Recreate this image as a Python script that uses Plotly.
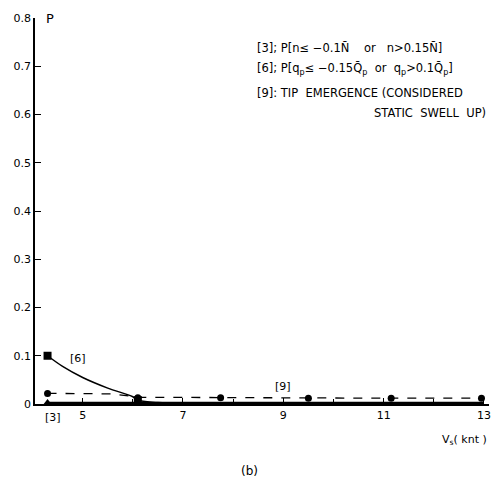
import plotly.graph_objects as go

# Data
v_marks = [4.3, 6.1, 7.75, 9.5, 11.15, 12.95]
p9_marks = [0.022, 0.013, 0.013, 0.012, 0.012, 0.012]
v9_line = [4.3, 5.6, 6.1, 7.75, 9.5, 11.15, 12.95]
p9_line = [0.022, 0.021, 0.014, 0.013, 0.012, 0.012, 0.012]

v6 = [4.3, 4.6, 5.0, 5.5, 6.0, 6.1, 6.5, 7.0]
p6 = [0.100, 0.078, 0.055, 0.033, 0.015, 0.008, 0.003, 0.0]
v6_marks = [4.3, 6.1]
p6_marks = [0.100, 0.008]

v3 = [4.3, 6.1, 13.0]
p3 = [0.002, 0.002, 0.002]

x_ticks = [5, 7, 9, 11, 13]
y_ticks = [0, 0.1, 0.2, 0.3, 0.4, 0.5, 0.6, 0.7, 0.8]
y_ticktext = ["0", "0.1", "0.2", "0.3", "0.4", "0.5", "0.6", "0.7", "0.8"]

FONT = "DejaVu Sans"
fig = go.Figure()

fig.add_trace(go.Scatter(x=v3, y=p3, mode="lines", line=dict(color="black", width=2.5),
                         showlegend=False, cliponaxis=False))
fig.add_trace(go.Scatter(x=[v3[0]], y=[p3[0]], mode="markers",
                         marker=dict(symbol="triangle-up", size=8, color="black"),
                         showlegend=False, cliponaxis=False))
fig.add_trace(go.Scatter(x=v6, y=p6, mode="lines", line=dict(color="black", width=1.5, shape="spline"),
                         showlegend=False, cliponaxis=False))
fig.add_trace(go.Scatter(x=v6_marks, y=p6_marks, mode="markers",
                         marker=dict(symbol="square", size=8, color="black"),
                         showlegend=False, cliponaxis=False))
fig.add_trace(go.Scatter(x=v9_line, y=p9_line, mode="lines",
                         line=dict(color="black", width=1.3, dash="dash"),
                         showlegend=False, cliponaxis=False))
fig.add_trace(go.Scatter(x=v_marks, y=p9_marks, mode="markers",
                         marker=dict(symbol="circle", size=7, color="black"),
                         showlegend=False, cliponaxis=False))

ann = []
def A(x, y, text, xref="paper", yref="paper", xanchor="left", yanchor="middle", size=11):
    ann.append(dict(x=x, y=y, xref=xref, yref=yref, text=text, showarrow=False,
                    xanchor=xanchor, yanchor=yanchor, font=dict(family=FONT, size=size, color="black")))

A(4.7, 0.094, "[6]", xref="x", yref="y")
A(9.0, 0.036, "[9]", xref="x", yref="y", xanchor="center")
A(0.04, -0.036, "[3]", xanchor="center")
A(0.02, 1.0, "P", yanchor="middle", size=13)
A(0.4835, 0.921, "[3]; P[n\u2264 \u22120.1N\u0304&nbsp;&nbsp;&nbsp; or&nbsp;&nbsp; n>0.15N\u0304]", size=11.5)
A(0.4835, 0.867, "[6]; P[q<sub>p</sub>\u2264 \u22120.15Q\u0304<sub>p</sub>&nbsp; or&nbsp; q<sub>p</sub>>0.1Q\u0304<sub>p</sub>]", size=11.5)
A(0.4835, 0.806, "[9]: TIP&nbsp; EMERGENCE (CONSIDERED", size=11.5)
A(0.998, 0.755, "STATIC&nbsp; SWELL&nbsp; UP)", xanchor="right", size=11.5)
A(1.0, -0.092, "V<sub>s</sub>( knt )", xanchor="right", size=11)
A(0.472, -0.173, "(b)", xanchor="center", size=12)

fig.update_layout(
    width=503, height=481,
    margin=dict(l=35, r=13, t=12, b=77),
    paper_bgcolor="white", plot_bgcolor="white",
    font=dict(family=FONT, size=11, color="black"),
    annotations=ann,
    xaxis=dict(range=[4.05, 13.1], tickvals=x_ticks, ticks="inside", ticklen=6,
               tickcolor="black", showgrid=False, zeroline=False, showline=True,
               linecolor="black", linewidth=1.5,
               minor=dict(dtick=1, tick0=0, ticks="inside", ticklen=5, tickcolor="black"),
               tickfont=dict(family=FONT, size=11)),
    yaxis=dict(range=[0, 0.8], tickvals=y_ticks, ticktext=y_ticktext, ticks="inside",
               ticklen=6, tickcolor="black", showgrid=False, zeroline=False, showline=True,
               linecolor="black", linewidth=1.5, tickfont=dict(family=FONT, size=11)),
)

fig.write_html("out.html")
